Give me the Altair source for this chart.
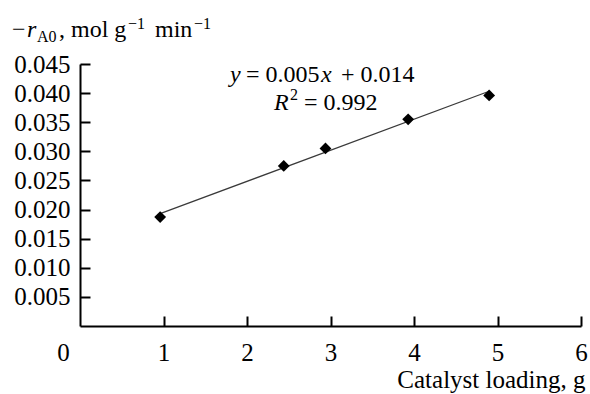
import altair as alt
import pandas as pd

# ---- data ----
loading = [0.96, 2.44, 2.94, 3.93, 4.90]
rate = [0.0187, 0.0275, 0.0305, 0.0355, 0.0396]
x_label_values = [0, 1, 2, 3, 4, 5, 6]
x_tick_values = [1, 2, 3, 4, 5, 6]
y_values = [0.005, 0.010, 0.015, 0.020, 0.025, 0.030, 0.035, 0.040, 0.045]

x_title = "Catalyst loading, g"
# rich-text pieces: (text, italic, font size, x px, baseline y px) in page pixels
title_pieces = [
    ("\u2212", False, 24, 12, 37),
    ("r", True, 24, 27, 37),
    ("A0", False, 16, 37, 42),
    (", mol g", False, 24, 59, 37),
    ("\u22121", False, 16, 128, 29),
    ("min", False, 24, 155, 37),
    ("\u22121", False, 16, 194, 29),
]
eq_pieces = [
    ("y", True, 24, 230, 82),
    ("= 0.005", False, 24, 246, 82),
    ("x", True, 24, 321, 82),
    ("+ 0.014", False, 24, 341, 82),
    ("R", True, 24, 274, 110),
    ("2", False, 16, 290, 100),
    ("= 0.992", False, 24, 304, 110),
]

FONT = "Liberation Serif, Times New Roman, serif"
FS = 25
W, H = 501, 262
LEFT, TOP = 80, 64

df = pd.DataFrame({"loading": loading, "rate": rate})

xscale = alt.Scale(domain=[0, 6], nice=False, zero=True)
yscale = alt.Scale(domain=[0, 0.045], nice=False, zero=True)

# points with label axes
points = alt.Chart(df).mark_point(
    shape="diamond", filled=True, color="black", size=140, opacity=1
).encode(
    x=alt.X("loading:Q", scale=xscale, axis=alt.Axis(
        orient="bottom", values=x_label_values, format="d", ticks=False, tickSize=0,
        domain=True, domainColor="black", domainWidth=2, grid=False,
        labelFont=FONT, labelFontSize=FS, labelColor="black", labelPadding=14,
        labelOffset={"condition": {"test": "datum.value == 0", "value": -17}, "value": 0},
        labelFlush=False, labelOverlap=False,
        title=x_title, titleFont=FONT, titleFontSize=FS, titleFontWeight="normal",
        titleColor="black", titleAnchor="end", titleAlign="right",
        titleX=505, titleY=61, titleBaseline="alphabetic",
    )),
    y=alt.Y("rate:Q", scale=yscale, axis=alt.Axis(
        orient="left", values=y_values, format=".3f", ticks=False, tickSize=0,
        domain=True, domainColor="black", domainWidth=2, grid=False,
        labelFont=FONT, labelFontSize=FS, labelColor="black", labelPadding=10,
        labelFlush=False, labelOverlap=False, title=None,
    )),
)

# regression line with inward tick-only axes
reg = alt.Chart(df).transform_regression("loading", "rate").mark_line(
    color="#3a3a3a", strokeWidth=1.2
).encode(
    x=alt.X("loading:Q", scale=xscale, axis=alt.Axis(
        orient="top", offset=-H, values=x_tick_values, ticks=True, tickSize=10,
        tickWidth=2, tickColor="black", domain=False, labels=False, grid=False, title=None,
    )),
    y=alt.Y("rate:Q", scale=yscale, axis=alt.Axis(
        orient="right", offset=-W, values=y_values, ticks=True, tickSize=10,
        tickWidth=2, tickColor="black", domain=False, labels=False, grid=False, title=None,
    )),
)


def piece_layer(pieces):
    layers = []
    for text, italic, size, px, py in pieces:
        layers.append(
            alt.Chart(pd.DataFrame({"t": [text]})).mark_text(
                font=FONT, fontSize=size, fontStyle="italic" if italic else "normal",
                align="left", baseline="alphabetic", color="black",
            ).encode(
                text="t:N",
                x=alt.value(px - LEFT),
                y=alt.value(py - TOP),
            )
        )
    return layers


chart = alt.layer(
    reg, points, *piece_layer(title_pieces), *piece_layer(eq_pieces)
).resolve_axis(x="independent", y="independent").properties(
    width=W, height=H,
    background="white",
    autosize=alt.AutoSizeParams(type="none"),
    padding={"left": LEFT, "top": TOP, "right": 590 - LEFT - W, "bottom": 394 - TOP - H},
).configure_view(stroke=None)

chart.save("out.html", embed_options={"renderer": "svg", "actions": False})
